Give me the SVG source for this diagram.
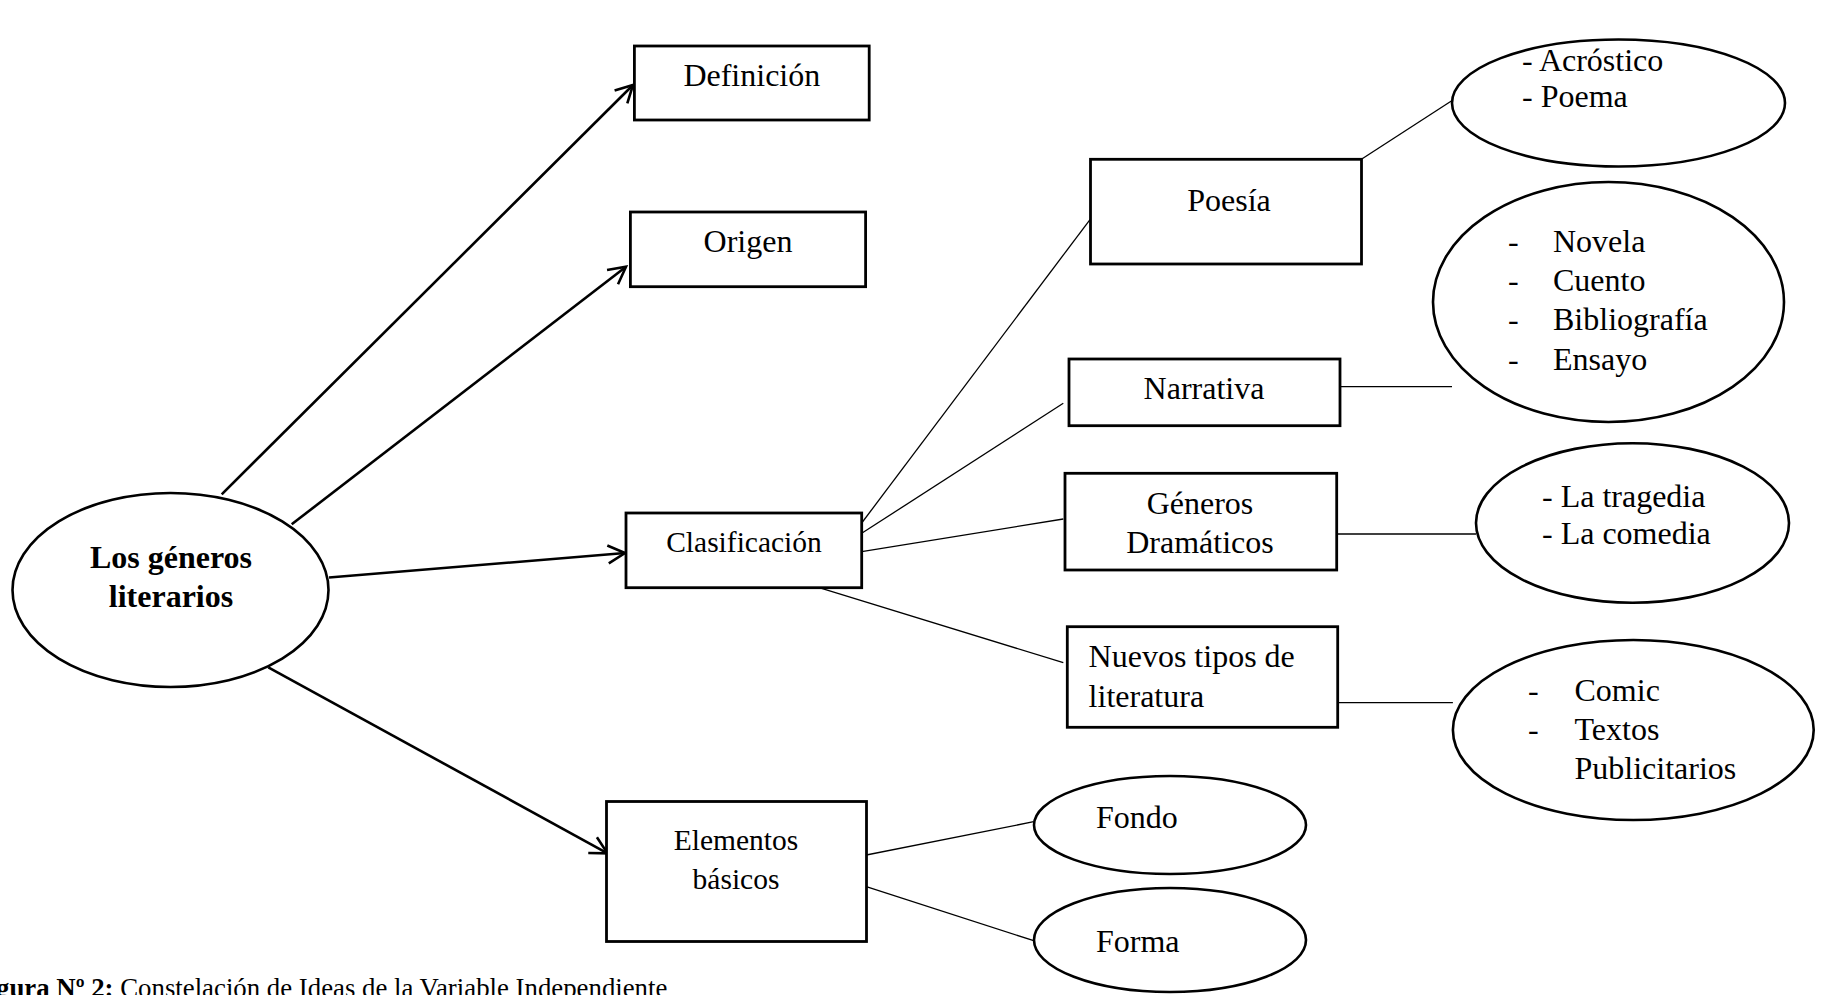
<svg xmlns="http://www.w3.org/2000/svg" width="1825" height="995" viewBox="0 0 1825 995">
<defs>
<style>
.box{fill:#fff;stroke:#000;stroke-width:2.8}
.ell{fill:#fff;stroke:#000;stroke-width:2.6}
.arr{fill:none;stroke:#000;stroke-width:2.6;marker-end:url(#ah)}
.thin{fill:none;stroke:#000;stroke-width:1.3}
text{font-family:"Liberation Serif","Times New Roman",serif;font-size:32px;fill:#000}
.c{text-anchor:middle}
.sm{font-size:29.5px}
.b{font-weight:bold}
.cap{font-size:26.8px}
</style>
<marker id="ah" markerUnits="userSpaceOnUse" markerWidth="24" markerHeight="24" viewBox="0 0 24 24" refX="21" refY="12" orient="auto">
<path d="M4,3 L21,12 L4,21" fill="none" stroke="#000" stroke-width="2.6"/>
</marker>
</defs>
<rect width="1825" height="995" fill="#fff"/>
<g id="connectors">
<line class="arr" x1="221.7" y1="494.3" x2="633" y2="85"/>
<line class="arr" x1="291.7" y1="524.3" x2="626" y2="266.7"/>
<line class="arr" x1="329" y1="577.5" x2="625" y2="553"/>
<line class="arr" x1="268.3" y1="667.3" x2="607.5" y2="853.3"/>
<line class="thin" x1="861.7" y1="523" x2="1090.2" y2="219.3"/>
<line class="thin" x1="861.7" y1="533.3" x2="1063.3" y2="403.3"/>
<line class="thin" x1="861.7" y1="551.7" x2="1063.3" y2="519"/>
<line class="thin" x1="818.3" y1="587.3" x2="1063.3" y2="662.7"/>
<line class="thin" x1="1361.4" y1="159.3" x2="1452.9" y2="100"/>
<line class="thin" x1="1334" y1="386.7" x2="1452" y2="386.7"/>
<line class="thin" x1="1336.7" y1="534" x2="1476" y2="534"/>
<line class="thin" x1="1332.7" y1="702.7" x2="1452.9" y2="702.7"/>
<line class="thin" x1="866.3" y1="855" x2="1033.7" y2="821.7"/>
<line class="thin" x1="866.3" y1="886.7" x2="1033.7" y2="940.7"/>
</g>
<g id="n-main">
<ellipse class="ell" cx="170.5" cy="590" rx="158" ry="97"/>
<text class="c b" x="171" y="568">Los géneros</text>
<text class="c b" x="171" y="607">literarios</text>
</g>
<g id="n-definicion">
<rect class="box" x="634.4" y="46" width="234.8" height="74"/>
<text class="c" x="751.8" y="86">Definición</text>
</g>
<g id="n-origen">
<rect class="box" x="630.4" y="212" width="235.2" height="74.7"/>
<text class="c" x="748" y="252">Origen</text>
</g>
<g id="n-clasificacion">
<rect class="box" x="626" y="513" width="235.7" height="74.7"/>
<text class="c sm" x="744" y="552">Clasificación</text>
</g>
<g id="n-elementos">
<rect class="box" x="606.5" y="801.5" width="260" height="140"/>
<text class="c sm" x="736" y="850">Elementos</text>
<text class="c sm" x="736" y="889">básicos</text>
</g>
<g id="n-poesia">
<rect class="box" x="1090.5" y="159.3" width="271" height="104.7"/>
<text class="c" x="1229" y="210.5">Poesía</text>
</g>
<g id="n-narrativa">
<rect class="box" x="1069" y="359" width="271" height="66.7"/>
<text class="c" x="1204" y="399">Narrativa</text>
</g>
<g id="n-dramaticos">
<rect class="box" x="1065" y="473.3" width="271.7" height="96.7"/>
<text class="c" x="1200" y="514">Géneros</text>
<text class="c" x="1200" y="552.5">Dramáticos</text>
</g>
<g id="n-nuevos">
<rect class="box" x="1067.3" y="626.7" width="270.4" height="100.6"/>
<text x="1088.6" y="666.5">Nuevos tipos de</text>
<text x="1088.6" y="706.5">literatura</text>
</g>
<g id="n-poesia-tipos">
<ellipse class="ell" cx="1618.5" cy="103" rx="166.5" ry="63.5"/>
<text x="1522" y="70.5">- Acróstico</text>
<text x="1522" y="106.7">- Poema</text>
</g>
<g id="n-narrativa-tipos">
<ellipse class="ell" cx="1608.5" cy="302" rx="175.5" ry="120"/>
<text x="1508" y="252">-</text><text x="1553" y="252">Novela</text>
<text x="1508" y="290.5">-</text><text x="1553" y="290.5">Cuento</text>
<text x="1508" y="330">-</text><text x="1553" y="330">Bibliografía</text>
<text x="1508" y="369.5">-</text><text x="1553" y="369.5">Ensayo</text>
</g>
<g id="n-dramaticos-tipos">
<ellipse class="ell" cx="1632.5" cy="523" rx="156.5" ry="79.7"/>
<text x="1542" y="507">- La tragedia</text>
<text x="1542" y="544">- La comedia</text>
</g>
<g id="n-nuevos-tipos">
<ellipse class="ell" cx="1633.3" cy="730" rx="180.4" ry="90"/>
<text x="1528" y="701">-</text><text x="1574.5" y="701">Comic</text>
<text x="1528" y="740">-</text><text x="1574.5" y="740">Textos</text>
<text x="1574.5" y="779">Publicitarios</text>
</g>
<g id="n-fondo">
<ellipse class="ell" cx="1170" cy="825" rx="136" ry="49"/>
<text x="1096" y="828">Fondo</text>
</g>
<g id="n-forma">
<ellipse class="ell" cx="1170" cy="940" rx="136" ry="52"/>
<text x="1096" y="951.6">Forma</text>
</g>
<g id="caption">
<text class="cap" x="-4" y="997"><tspan class="b">gura Nº 2:</tspan> Constelación de Ideas de la Variable Independiente</text>
</g>
</svg>
